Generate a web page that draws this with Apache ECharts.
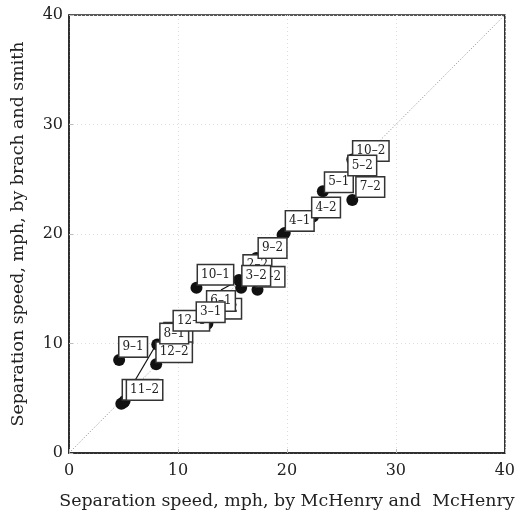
<!DOCTYPE html>
<html>
<head>
<meta charset="utf-8">
<script src="https://cdn.jsdelivr.net/npm/echarts@6/dist/echarts.min.js"></script>
<style>
  html, body { margin: 0; padding: 0; background: #fff; }
  #chart { width: 518px; height: 520px; }
</style>
</head>
<body>
<div id="chart"></div>
<script>
// crash pair ids, drawn bottom to top
const pairNames = ['11-1', '11-2', '8-2', '9-1', '12-2', '8-1', '10-1', '6-2', '6-1', '12-1', '3-1',
  '2-2', '1-2', '3-2', '9-2', '4-1', '4-2', '5-1', '7-2', '10-2', '5-2'];
// separation speed (mph), McHenry and McHenry
const mchenrySpeed = [5.0, 5.1, 4.8, 4.6, 8.0, 8.1, 11.7, 15.8, 15.6, 12.7, 13.0,
  17.2, 17.3, 17.0, 19.6, 19.8, 22.4, 23.3, 26.0, 26.6, 26.0];
// separation speed (mph), Brach and Smith
const brachSmithSpeed = [4.6, 4.75, 4.5, 8.5, 8.1, 9.9, 15.1, 15.1, 15.8, 11.8, 12.4,
  17.8, 14.9, 16.0, 19.9, 20.1, 21.6, 23.9, 23.1, 27.4, 26.8];
const axisTicks = [0, 10, 20, 30, 40];
const diagonal = [0, 40];

// where each label box sits relative to its point (px)
const labelShift = {
  '11-1': [17, -13], '11-2': [20, -11], '8-2': [57, -71], '9-1': [14, -13],
  '12-2': [18, -12], '8-1': [17, -11], '10-1': [19, -13], '6-2': [-14, 21],
  '6-1': [-18, 21], '12-1': [-16, -3], '3-1': [0, -5], '2-2': [1, 7],
  '1-2': [13, -13], '3-2': [2, -2], '9-2': [-10, 13], '4-1': [15, -12],
  '4-2': [13, -9], '5-1': [16, -9], '7-2': [18, -13], '10-2': [12, -2], '5-2': [10, 6]
};
const withLeader = ['8-2', '6-1'];

const font = 'DejaVu Serif';
const chart = echarts.init(document.getElementById('chart'));

const points = pairNames.map((name, i) => ({
  name: name,
  value: [mchenrySpeed[i], brachSmithSpeed[i]],
  labelLine: { show: withLeader.indexOf(name) >= 0 }
}));

const axisCommon = {
  type: 'value',
  min: axisTicks[0],
  max: axisTicks[axisTicks.length - 1],
  interval: 10,
  nameLocation: 'middle',
  nameTextStyle: { fontFamily: font, fontSize: 17.4, color: '#222' },
  axisLine: { show: true, lineStyle: { color: '#222', width: 1.5 } },
  axisTick: { show: true, inside: true, length: 4, lineStyle: { color: '#bbb' } },
  axisLabel: { fontFamily: font, fontSize: 16, color: '#222' },
  splitLine: { show: true, lineStyle: { color: '#ddd', type: [1, 3], width: 1 } }
};

chart.setOption({
  animation: false,
  backgroundColor: '#fff',
  grid: {
    left: 69, right: 11, top: 15, bottom: 67,
    show: true, borderColor: '#222', borderWidth: 1.5, backgroundColor: 'transparent'
  },
  xAxis: Object.assign({}, axisCommon, {
    name: 'Separation speed, mph, by McHenry and  McHenry',
    nameGap: 40,
    axisLabel: Object.assign({}, axisCommon.axisLabel, { margin: 10 })
  }),
  yAxis: Object.assign({}, axisCommon, {
    name: 'Separation speed, mph, by brach and smith',
    nameGap: 42,
    axisLabel: Object.assign({}, axisCommon.axisLabel, { margin: 6 })
  }),
  series: [
    {
      type: 'line',
      data: diagonal.map(v => [v, v]),
      symbol: 'none',
      silent: true,
      lineStyle: { color: '#888', width: 1, type: [1, 2] },
      z: 1
    },
    {
      type: 'scatter',
      data: points,
      symbol: 'circle',
      symbolSize: 12,
      itemStyle: { color: '#111', opacity: 1 },
      z: 3,
      label: {
        show: true,
        position: 'inside',
        formatter: p => p.name.replace('-', '\u2013'),
        fontFamily: font,
        fontSize: 12,
        color: '#222',
        opacity: 1,
        backgroundColor: '#fff',
        borderColor: '#333',
        borderWidth: 1.5,
        padding: [4, 3, 3, 3]
      },
      labelLine: { show: false, lineStyle: { color: '#111', width: 1.2, opacity: 1 } },
      labelLayout: function (params) {
        const s = labelShift[pairNames[params.dataIndex]] || [0, 0];
        return { dx: s[0], dy: s[1] };
      }
    }
  ]
});
</script>
</body>
</html>
